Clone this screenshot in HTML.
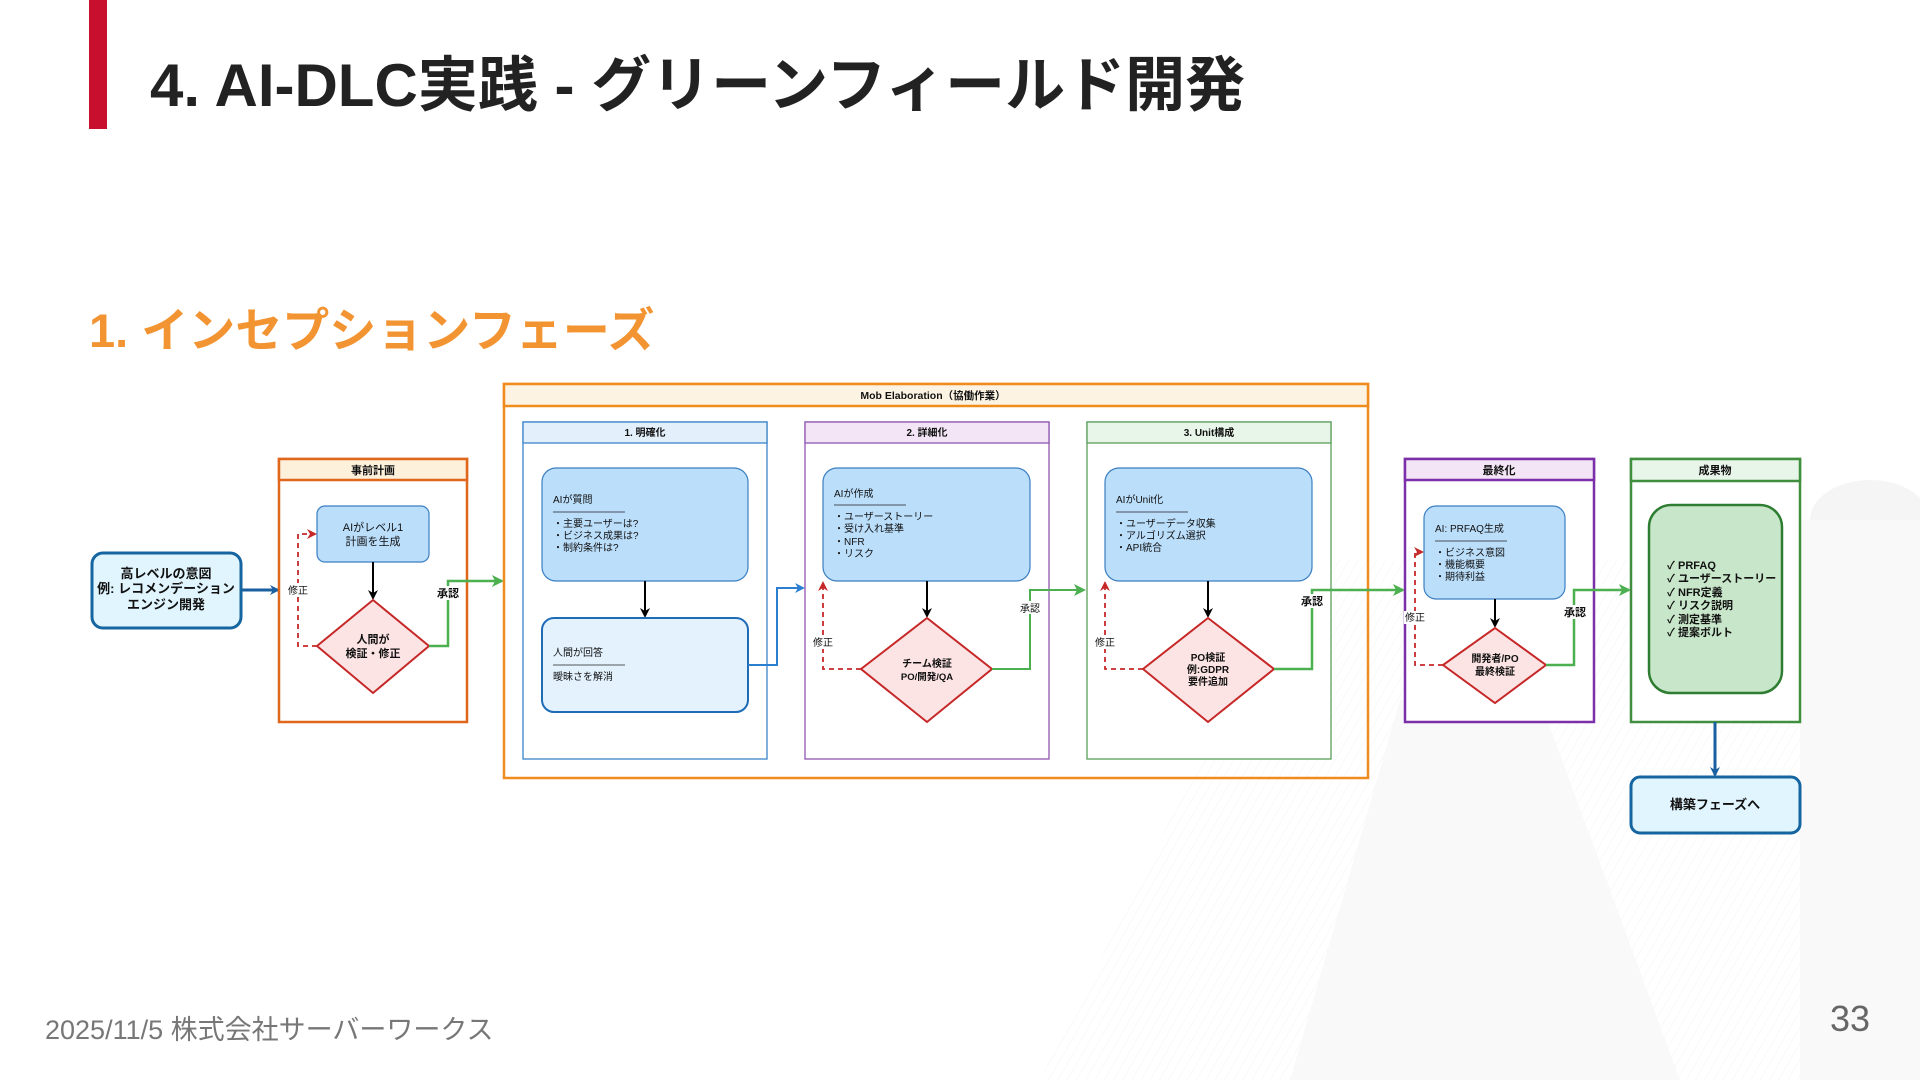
<!DOCTYPE html>
<html><head><meta charset="utf-8">
<style>
html,body{margin:0;padding:0;background:#fff;}
body{width:1920px;height:1080px;position:relative;overflow:hidden;font-family:"Liberation Sans","Noto Sans CJK JP",sans-serif;}
.bar{position:absolute;left:89px;top:0;width:18px;height:129px;background:#c8102e;}
.title{position:absolute;left:150px;top:37px;font-size:60px;font-weight:bold;color:#222;white-space:nowrap;}
.sub{position:absolute;left:89px;top:292px;font-size:47px;font-weight:bold;color:#f39433;white-space:nowrap;}
.foot{position:absolute;left:45px;top:1008px;font-size:27px;color:#777;white-space:nowrap;}
.pg{position:absolute;left:1830px;top:998px;font-size:36px;color:#666;}
svg{position:absolute;left:0;top:0;}
</style></head><body>
<svg width="1920" height="1080" viewBox="0 0 1920 1080">
<defs>
<pattern id="st" width="8" height="8" patternUnits="userSpaceOnUse" patternTransform="rotate(30)"><line x1="0" y1="0" x2="0" y2="8" stroke="#f0f0f0" stroke-width="1"/></pattern>
<marker id="ab" markerWidth="10" markerHeight="10" refX="8" refY="5" orient="auto" markerUnits="userSpaceOnUse"><path d="M0,0 L10,5 L0,10 L3,5z" fill="#1a5fa0"/></marker>
<marker id="ak" markerWidth="10" markerHeight="10" refX="8" refY="5" orient="auto" markerUnits="userSpaceOnUse"><path d="M0,0 L10,5 L0,10 L3,5z" fill="#000"/></marker>
<marker id="ag" markerWidth="12" markerHeight="12" refX="10" refY="6" orient="auto" markerUnits="userSpaceOnUse"><path d="M0,0 L12,6 L0,12 L3,6z" fill="#4caf50"/></marker>
<marker id="ar" markerWidth="10" markerHeight="10" refX="8" refY="5" orient="auto" markerUnits="userSpaceOnUse"><path d="M0,0 L10,5 L0,10 L3,5z" fill="#c62828"/></marker>
<marker id="ac" markerWidth="10" markerHeight="10" refX="8" refY="5" orient="auto" markerUnits="userSpaceOnUse"><path d="M0,0 L10,5 L0,10 L3,5z" fill="#2a7fd0"/></marker>
</defs>
<polygon points="1040,1080 1300,560 1920,560 1920,1080" fill="url(#st)" opacity="0.8"/>
<polygon points="1290,1080 1400,700 1540,700 1680,1080" fill="#f9f9f9"/>
<ellipse cx="1870" cy="520" rx="60" ry="40" fill="#f5f5f5"/>
<rect x="1800" y="520" width="120" height="560" fill="#f9f9f9"/>

<g font-family="Liberation Sans, Noto Sans CJK JP, sans-serif" font-size="11" fill="#111">
<rect x="92" y="553" width="149" height="75" rx="11" fill="#e1f5fe" stroke="#1565a0" stroke-width="3"/>
<text x="166" y="578" text-anchor="middle" font-weight="bold" font-size="13">高レベルの意図</text>
<text x="166" y="593" text-anchor="middle" font-weight="bold" font-size="13">例: レコメンデーション</text>
<text x="166" y="609" text-anchor="middle" font-weight="bold" font-size="13">エンジン開発</text>
<line x1="242" y1="590" x2="278" y2="590" stroke="#1a5fa0" stroke-width="3" marker-end="url(#ab)"/>

<rect x="279" y="459" width="188" height="263" fill="#fff" stroke="#e0661c" stroke-width="2.5"/>
<rect x="279" y="459" width="188" height="21" fill="#fdf1dc" stroke="#e0661c" stroke-width="2.5"/>
<text x="373" y="474" text-anchor="middle" font-weight="bold" font-size="11">事前計画</text>
<rect x="317" y="506" width="112" height="56" rx="8" fill="#bbdefb" stroke="#3a7fc1" stroke-width="1.2"/>
<text x="373" y="531" text-anchor="middle" font-size="11">AIがレベル1</text>
<text x="373" y="545" text-anchor="middle" font-size="11">計画を生成</text>
<line x1="373" y1="562" x2="373" y2="598" stroke="#000" stroke-width="2" marker-end="url(#ak)"/>
<polygon points="373,600 429,646 373,693 317,646" fill="#fde4e4" stroke="#c62828" stroke-width="2"/>
<text x="373" y="643" text-anchor="middle" font-weight="bold" font-size="11">人間が</text>
<text x="373" y="657" text-anchor="middle" font-weight="bold" font-size="11">検証・修正</text>
<polyline points="317,646 298,646 298,534 315,534" fill="none" stroke="#c62828" stroke-width="1.8" stroke-dasharray="5,4" marker-end="url(#ar)"/>
<rect x="287" y="583" width="22" height="13" fill="#fff"/>
<text x="298" y="594" text-anchor="middle" font-size="10">修正</text>
<polyline points="429,646 448,646 448,581 502,581" fill="none" stroke="#4caf50" stroke-width="2.5" marker-end="url(#ag)"/>
<rect x="436" y="586" width="24" height="14" fill="#fff"/>
<text x="448" y="597" text-anchor="middle" font-weight="bold" font-size="11">承認</text>

<rect x="504" y="384" width="864" height="394" fill="none" stroke="#f08c1e" stroke-width="2.5"/>
<rect x="504" y="384" width="864" height="22" fill="#fdf3e3" stroke="#f08c1e" stroke-width="2.5"/>
<text x="933" y="399" text-anchor="middle" font-weight="bold" font-size="10.5">Mob Elaboration（協働作業）</text>

<rect x="523" y="422" width="244" height="337" fill="#fff" stroke="#3a84c9" stroke-width="1.3"/>
<rect x="523" y="422" width="244" height="21" fill="#e3f0fb" stroke="#3a84c9" stroke-width="1.3"/>
<text x="645" y="436" text-anchor="middle" font-weight="bold" font-size="10">1. 明確化</text>
<rect x="542" y="468" width="206" height="113" rx="14" fill="#bbdefb" stroke="#3a7fc1" stroke-width="1.2"/>
<text x="553" y="503" font-size="10">AIが質問</text>
<line x1="553" y1="512" x2="625" y2="512" stroke="#222" stroke-width="0.8"/>
<text x="553" y="527" font-size="10">・主要ユーザーは?</text>
<text x="553" y="539" font-size="10">・ビジネス成果は?</text>
<text x="553" y="551" font-size="10">・制約条件は?</text>
<line x1="645" y1="581" x2="645" y2="616" stroke="#000" stroke-width="2" marker-end="url(#ak)"/>
<rect x="542" y="618" width="206" height="94" rx="12" fill="#e3f2fd" stroke="#1e6bb8" stroke-width="2"/>
<text x="553" y="656" font-size="10">人間が回答</text>
<line x1="553" y1="665" x2="625" y2="665" stroke="#222" stroke-width="0.8"/>
<text x="553" y="680" font-size="10">曖昧さを解消</text>
<polyline points="748,665 777,665 777,588 803,588" fill="none" stroke="#2a7fd0" stroke-width="2" marker-end="url(#ac)"/>

<rect x="805" y="422" width="244" height="337" fill="#fff" stroke="#8e56b0" stroke-width="1.3"/>
<rect x="805" y="422" width="244" height="21" fill="#f3e5f5" stroke="#8e56b0" stroke-width="1.3"/>
<text x="927" y="436" text-anchor="middle" font-weight="bold" font-size="10">2. 詳細化</text>
<rect x="823" y="468" width="207" height="113" rx="14" fill="#bbdefb" stroke="#3a7fc1" stroke-width="1.2"/>
<text x="834" y="497" font-size="10">AIが作成</text>
<line x1="834" y1="505" x2="906" y2="505" stroke="#222" stroke-width="0.8"/>
<text x="834" y="520" font-size="10">・ユーザーストーリー</text>
<text x="834" y="532" font-size="10">・受け入れ基準</text>
<text x="834" y="545" font-size="10">・NFR</text>
<text x="834" y="557" font-size="10">・リスク</text>
<line x1="927" y1="581" x2="927" y2="616" stroke="#000" stroke-width="2" marker-end="url(#ak)"/>
<polygon points="927,618 992,669 927,722 861,669" fill="#fde4e4" stroke="#c62828" stroke-width="2"/>
<text x="927" y="667" text-anchor="middle" font-weight="bold" font-size="10">チーム検証</text>
<text x="927" y="680" text-anchor="middle" font-weight="bold" font-size="9.5">PO/開発/QA</text>
<polyline points="861,669 823,669 823,583" fill="none" stroke="#c62828" stroke-width="1.8" stroke-dasharray="5,4" marker-end="url(#ar)"/>
<rect x="811" y="636" width="24" height="13" fill="#fff"/>
<text x="823" y="646" text-anchor="middle" font-size="10">修正</text>
<polyline points="992,669 1030,669 1030,590 1084,590" fill="none" stroke="#4caf50" stroke-width="2" marker-end="url(#ag)"/>
<rect x="1018" y="601" width="24" height="13" fill="#fff"/>
<text x="1030" y="612" text-anchor="middle" font-size="10">承認</text>

<rect x="1087" y="422" width="244" height="337" fill="#fff" stroke="#5a9e5a" stroke-width="1.3"/>
<rect x="1087" y="422" width="244" height="21" fill="#e8f5e9" stroke="#5a9e5a" stroke-width="1.3"/>
<text x="1209" y="436" text-anchor="middle" font-weight="bold" font-size="10">3. Unit構成</text>
<rect x="1105" y="468" width="207" height="113" rx="14" fill="#bbdefb" stroke="#3a7fc1" stroke-width="1.2"/>
<text x="1116" y="503" font-size="10">AIがUnit化</text>
<line x1="1116" y1="512" x2="1188" y2="512" stroke="#222" stroke-width="0.8"/>
<text x="1116" y="527" font-size="10">・ユーザーデータ収集</text>
<text x="1116" y="539" font-size="10">・アルゴリズム選択</text>
<text x="1116" y="551" font-size="10">・API統合</text>
<line x1="1208" y1="581" x2="1208" y2="616" stroke="#000" stroke-width="2" marker-end="url(#ak)"/>
<polygon points="1208,618 1274,669 1208,722 1143,669" fill="#fde4e4" stroke="#c62828" stroke-width="2"/>
<text x="1208" y="661" text-anchor="middle" font-weight="bold" font-size="10">PO検証</text>
<text x="1208" y="673" text-anchor="middle" font-weight="bold" font-size="10">例:GDPR</text>
<text x="1208" y="685" text-anchor="middle" font-weight="bold" font-size="10">要件追加</text>
<polyline points="1143,669 1105,669 1105,583" fill="none" stroke="#c62828" stroke-width="1.8" stroke-dasharray="5,4" marker-end="url(#ar)"/>
<rect x="1093" y="636" width="24" height="13" fill="#fff"/>
<text x="1105" y="646" text-anchor="middle" font-size="10">修正</text>
<polyline points="1274,669 1312,669 1312,590 1403,590" fill="none" stroke="#4caf50" stroke-width="2.5" marker-end="url(#ag)"/>
<rect x="1299" y="594" width="26" height="14" fill="#fff"/>
<text x="1312" y="605" text-anchor="middle" font-weight="bold" font-size="11">承認</text>

<rect x="1405" y="459" width="189" height="263" fill="#fff" stroke="#7b2fa8" stroke-width="2.5"/>
<rect x="1405" y="459" width="189" height="21" fill="#f3e5f5" stroke="#7b2fa8" stroke-width="2.5"/>
<text x="1499" y="474" text-anchor="middle" font-weight="bold" font-size="11">最終化</text>
<rect x="1424" y="506" width="141" height="93" rx="12" fill="#bbdefb" stroke="#3a7fc1" stroke-width="1.2"/>
<text x="1435" y="532" font-size="10">AI: PRFAQ生成</text>
<line x1="1435" y1="541" x2="1507" y2="541" stroke="#222" stroke-width="0.8"/>
<text x="1435" y="556" font-size="10">・ビジネス意図</text>
<text x="1435" y="568" font-size="10">・機能概要</text>
<text x="1435" y="580" font-size="10">・期待利益</text>
<line x1="1495" y1="599" x2="1495" y2="626" stroke="#000" stroke-width="2" marker-end="url(#ak)"/>
<polygon points="1495,628 1546,665 1495,703 1443,665" fill="#fde4e4" stroke="#c62828" stroke-width="2"/>
<text x="1495" y="662" text-anchor="middle" font-weight="bold" font-size="10">開発者/PO</text>
<text x="1495" y="675" text-anchor="middle" font-weight="bold" font-size="10">最終検証</text>
<polyline points="1443,665 1415,665 1415,552 1422,552" fill="none" stroke="#c62828" stroke-width="1.8" stroke-dasharray="5,4" marker-end="url(#ar)"/>
<rect x="1404" y="611" width="24" height="13" fill="#fff"/>
<text x="1415" y="621" text-anchor="middle" font-size="10">修正</text>
<polyline points="1546,665 1574,665 1574,590 1629,590" fill="none" stroke="#4caf50" stroke-width="2.5" marker-end="url(#ag)"/>
<rect x="1562" y="605" width="26" height="14" fill="#fff"/>
<text x="1575" y="616" text-anchor="middle" font-weight="bold" font-size="11">承認</text>

<rect x="1631" y="459" width="169" height="263" fill="#fff" stroke="#3f8f3f" stroke-width="2.5"/>
<rect x="1631" y="459" width="169" height="22" fill="#e8f5e9" stroke="#3f8f3f" stroke-width="2.5"/>
<text x="1715" y="474" text-anchor="middle" font-weight="bold" font-size="11">成果物</text>
<rect x="1649" y="505" width="133" height="188" rx="22" fill="#c8e6c9" stroke="#2e7d32" stroke-width="2.5"/>
<g font-weight="bold" font-size="11">
<text x="1667" y="569">✓ PRFAQ</text>
<text x="1667" y="582">✓ ユーザーストーリー</text>
<text x="1667" y="596">✓ NFR定義</text>
<text x="1667" y="609">✓ リスク説明</text>
<text x="1667" y="623">✓ 測定基準</text>
<text x="1667" y="636">✓ 提案ボルト</text>
</g>
<line x1="1715" y1="722" x2="1715" y2="775" stroke="#1a5fa0" stroke-width="3" marker-end="url(#ab)"/>
<rect x="1631" y="777" width="169" height="56" rx="9" fill="#e1f5fe" stroke="#1565a0" stroke-width="3"/>
<text x="1715" y="809" text-anchor="middle" font-weight="bold" font-size="13">構築フェーズへ</text>
</g>
</svg>
<div class="bar"></div>
<div class="title">4. AI-DLC実践 - グリーンフィールド開発</div>
<div class="sub">1. インセプションフェーズ</div>
<div class="foot">2025/11/5 株式会社サーバーワークス</div>
<div class="pg">33</div>
</body></html>
